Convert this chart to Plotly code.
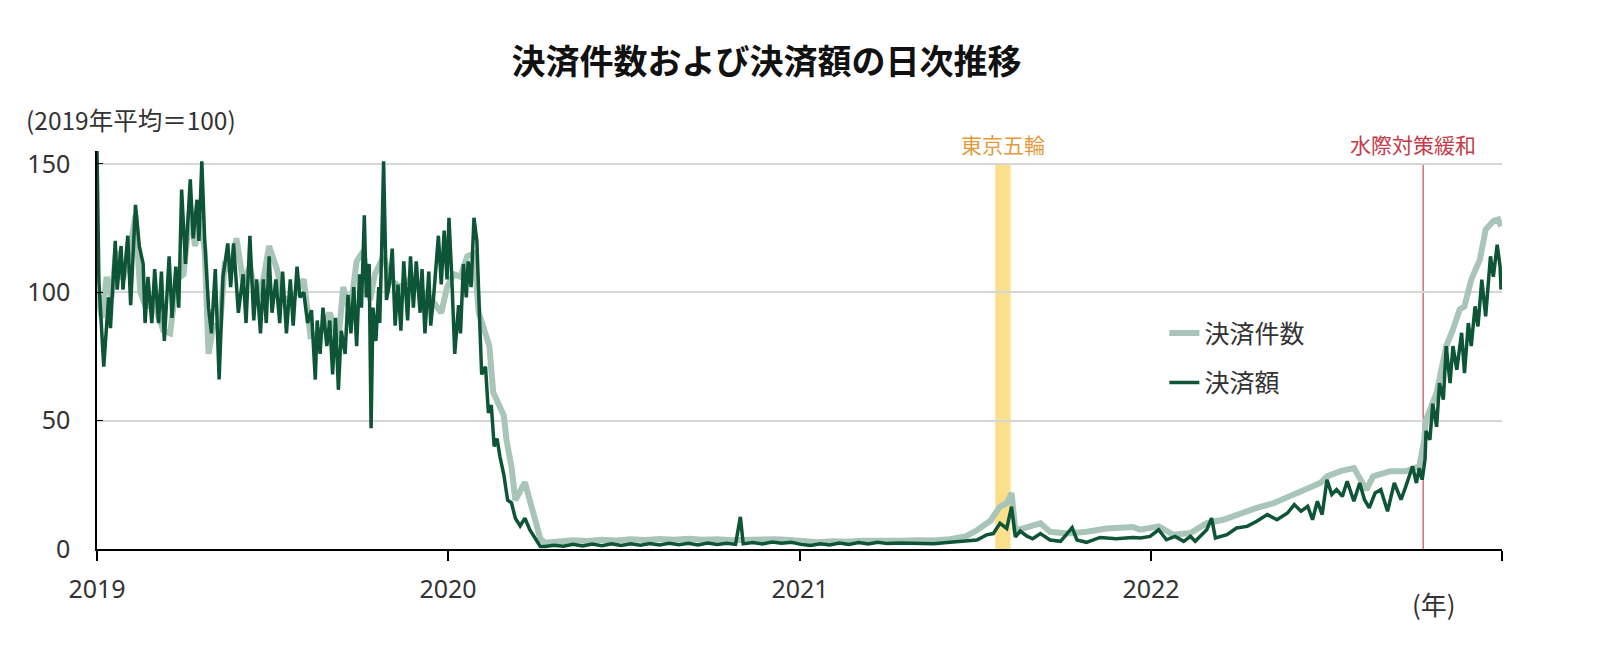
import pandas as pd
import plotly.graph_objects as go

START = "2019-01-01"

# (days since 2019-01-01, index value)
amount_points = [
    (0, 155), (2, 104), (7, 71), (12, 98), (14, 86), (19, 120), (21, 101), (25, 118), (27, 101), (32, 122),
    (35, 95), (40, 134), (44, 118), (48, 111), (50, 88), (53, 106), (57, 88), (60, 109), (64, 88), (67, 108),
    (70, 81), (75, 114), (78, 90), (82, 110), (85, 94), (88, 140), (92, 111), (97, 144), (100, 121), (104, 136),
    (106, 120), (109, 151), (112, 120), (116, 94), (119, 84), (123, 109), (127, 66), (131, 106), (136, 119), (139, 102),
    (142, 119), (147, 92), (152, 107), (155, 88), (159, 122), (163, 89), (166, 105), (170, 84), (173, 105), (176, 88),
    (179, 114), (182, 92), (186, 105), (190, 88), (193, 108), (197, 84), (201, 105), (204, 87), (208, 110), (211, 98),
    (215, 100), (219, 88), (223, 93), (227, 66), (229, 89), (232, 76), (235, 94), (239, 79), (242, 89), (245, 68),
    (248, 90), (251, 62), (254, 85), (258, 76), (261, 99), (264, 84), (267, 102), (270, 79), (273, 107), (275, 94),
    (278, 130), (280, 98), (283, 111), (285, 47), (287, 94), (290, 81), (293, 102), (294, 88), (296, 116), (298, 151),
    (301, 97), (304, 103), (307, 117), (310, 87), (313, 103), (316, 85), (319, 112), (323, 89), (326, 114), (329, 94),
    (332, 112), (336, 92), (338, 109), (341, 84), (345, 108), (347, 87), (350, 98), (355, 122), (358, 103), (361, 124),
    (364, 105), (366, 129), (369, 105), (372, 76), (376, 95), (378, 84), (381, 111), (384, 98), (386, 112), (389, 102),
    (392, 129), (395, 120), (398, 88), (400, 68), (404, 71), (407, 53), (410, 56), (413, 40), (416, 43), (419, 36),
    (423, 29), (427, 19), (431, 18), (435, 12), (440, 9), (445, 12), (450, 7.5), (456, 3.6), (461, 1.0),
    (466, 1.0), (475, 1.5), (485, 1.1), (495, 1.8), (505, 1.2), (515, 1.9), (525, 1.3), (535, 2.0), (545, 1.4), (555, 2.0),
    (565, 1.5), (575, 2.1), (585, 1.6), (595, 2.2), (605, 1.7), (615, 2.2), (625, 1.6), (635, 2.3), (645, 1.8), (655, 2.2),
    (664, 1.8), (669, 12.5), (672, 2.0), (682, 2.5), (692, 2.0), (702, 2.7), (712, 2.2), (722, 2.6), (732, 1.8), (742, 1.4),
    (752, 2.0), (762, 1.6), (772, 2.3), (782, 1.8), (792, 2.5), (802, 2.0), (812, 2.6), (822, 2.1), (835, 2.3), (852, 2.2),
    (870, 2.0), (887, 2.6), (904, 3.0), (915, 3.5), (925, 5.5), (932, 6.0), (939, 10), (946, 8), (951, 16.5), (955, 4.7),
    (960, 7.0), (967, 5.0), (973, 4.0), (981, 6.0), (991, 3.5), (1002, 3.0), (1014, 8.3), (1019, 3.5), (1029, 2.6), (1043, 4.5),
    (1060, 4.0), (1077, 4.5), (1085, 4.3), (1095, 4.9), (1104, 7.5), (1112, 3.6), (1121, 4.9), (1130, 3.0), (1137, 4.9), (1142, 3.0),
    (1154, 7.5), (1159, 12), (1163, 4.3), (1175, 5.6), (1185, 8.2), (1196, 8.8), (1206, 10.8), (1217, 13.4), (1227, 11.4), (1238, 14),
    (1245, 17.3), (1252, 14.7), (1259, 16.6), (1264, 11.4), (1269, 18.6), (1274, 13.4), (1279, 27), (1284, 21.2), (1289, 23.1), (1295, 20.5),
    (1300, 26.4), (1307, 18.6), (1313, 25.7), (1318, 19.2), (1323, 16), (1329, 21.8), (1335, 23.1), (1342, 14.7), (1349, 25.7), (1356, 19.2),
    (1361, 24.4), (1368, 32.2), (1372, 25.7), (1375, 31.5), (1378, 27), (1381, 35), (1382, 46), (1386, 42.5), (1389, 56.6), (1393, 47.6),
    (1396, 64.6), (1400, 58.2), (1403, 79), (1407, 64.6), (1410, 79), (1414, 69.8), (1419, 84.2), (1422, 68.5), (1426, 88), (1429, 79),
    (1433, 94.5), (1436, 86.7), (1440, 104.9), (1444, 90.6), (1449, 114), (1452, 106), (1456, 118.5), (1459, 110), (1460, 101),
]

count_points = [
    (0, 100), (5, 90), (10, 106), (15, 98), (20, 116), (27, 105), (34, 116), (40, 130), (45, 100), (51, 94),
    (57, 98), (62, 92), (69, 85), (76, 84), (83, 105), (90, 107), (97, 133), (102, 118), (107, 130), (112, 116),
    (116, 76), (121, 87), (128, 87), (133, 112), (139, 108), (145, 121), (152, 104), (159, 110), (166, 97), (173, 105),
    (179, 118), (187, 109), (194, 97), (204, 98), (215, 105), (222, 83), (232, 84), (242, 92), (251, 81), (256, 102),
    (263, 92), (270, 112), (277, 116), (284, 97), (289, 107), (298, 114), (305, 105), (315, 102), (325, 105), (336, 101),
    (346, 98), (358, 92), (364, 102), (371, 107), (378, 106), (385, 114), (392, 115), (397, 92), (404, 83), (408, 79),
    (412, 61), (416, 58), (423, 52), (426, 42), (431, 32), (435, 19), (440, 22), (445, 26), (450, 19), (456, 10),
    (461, 4), (466, 2.4), (480, 3.0), (495, 3.4), (510, 3.1), (525, 3.6), (540, 3.3), (555, 3.8), (570, 3.5), (585, 3.9),
    (600, 3.6), (615, 4.0), (630, 3.6), (645, 3.8), (660, 3.4), (675, 3.6), (690, 3.4), (705, 3.8), (720, 3.5), (735, 2.9),
    (750, 2.6), (765, 3.0), (780, 2.8), (795, 3.2), (810, 3.0), (825, 3.3), (835, 3.2), (852, 3.4), (870, 3.3), (887, 3.8),
    (904, 5.0), (915, 7.3), (929, 11), (939, 16.5), (946, 17.8), (951, 21.8), (955, 7.3), (963, 8), (981, 10), (991, 6.7),
    (1009, 6), (1029, 6.7), (1050, 8), (1077, 8.6), (1085, 7.5), (1104, 8.8), (1119, 5.6), (1137, 6.2), (1154, 10.1), (1171, 11.4),
    (1189, 14), (1206, 16), (1224, 17.9), (1241, 20.5), (1259, 23.1), (1272, 25.7), (1279, 28.3), (1293, 30.3), (1307, 31.5), (1313, 27.6),
    (1320, 23.1), (1327, 28.3), (1345, 30.3), (1361, 30.3), (1375, 32.2), (1380, 42), (1382, 50.4), (1393, 60.8), (1403, 79), (1410, 85.5),
    (1417, 93.3), (1422, 94.5), (1429, 104.9), (1438, 112.7), (1441, 117.9), (1444, 124.4), (1452, 127.7), (1457, 128.3), (1460, 125.7),
]

year_ticks = ["2019-01-01", "2020-01-01", "2021-01-01", "2022-01-01", "2023-01-01"]
year_labels = ["2019", "2020", "2021", "2022", ""]
y_ticks = [0, 50, 100, 150]
olympics_period = ["2021-07-23", "2021-08-08"]
border_easing_date = "2022-10-11"

series_names = ["決済件数", "決済額"]
title_text = "決済件数および決済額の日次推移"
y_unit_text = "(2019年平均＝100)"
x_unit_text = "(年)"
olympics_label = "東京五輪"
border_label = "水際対策緩和"


def to_dates(points):
    base = pd.Timestamp(START)
    return [base + pd.Timedelta(days=d) for d, _ in points], [v for _, v in points]


cx, cy = to_dates(count_points)
ax, ay = to_dates(amount_points)

JP = "Noto Sans CJK JP"
NUM = "Noto Sans"

fig = go.Figure()
fig.add_trace(go.Scatter(x=cx, y=cy, mode="lines", name=series_names[0],
                         line=dict(color="#A9C4B8", width=6), legendgroup="a"))
fig.add_trace(go.Scatter(x=ax, y=ay, mode="lines", name=series_names[1],
                         line=dict(color="#0E5538", width=3.5), legendgroup="b"))

fig.add_shape(type="rect", xref="x", yref="y", x0=olympics_period[0], x1=olympics_period[1],
              y0=0, y1=150, fillcolor="#FBE08C", line_width=0, layer="below")
fig.add_shape(type="line", xref="x", yref="y", x0=border_easing_date, x1=border_easing_date,
              y0=0, y1=150, line=dict(color="#B82A35", width=1), layer="below")

olympics_mid = pd.Timestamp(olympics_period[0]) + (pd.Timestamp(olympics_period[1]) - pd.Timestamp(olympics_period[0])) / 2

fig.add_annotation(x=olympics_mid, y=1.018, xref="x", yref="paper", text=olympics_label, xanchor="center",
                   showarrow=False, font=dict(family=JP, size=21, color="#E39A3E"), yanchor="middle")
fig.add_annotation(x=border_easing_date, y=1.018, xref="x", yref="paper", text=border_label, xshift=-10,
                   xanchor="center",
                   showarrow=False, font=dict(family=JP, size=21, color="#C33B48"), yanchor="middle")
fig.add_annotation(x=-0.052, y=1.078, xref="paper", yref="paper", text=y_unit_text, xanchor="left",
                   showarrow=False, font=dict(family=JP, size=24.5, color="#333333"), yanchor="middle")
fig.add_annotation(x=0.9516, y=-0.138, xref="paper", yref="paper", text=x_unit_text, xanchor="center",
                   showarrow=False, font=dict(family=JP, size=26, color="#333333"), yanchor="middle")

fig.update_layout(
    width=1600, height=658,
    margin=dict(l=97, r=98, t=151, b=109),
    paper_bgcolor="white", plot_bgcolor="white",
    title=dict(text=title_text, x=0.479, xref="container", xanchor="center",
               y=1 - 62 / 658, yref="container", yanchor="middle",
               font=dict(family=JP, size=34, color="#111111", weight="bold")),
    showlegend=True,
    legend=dict(x=0.7597, y=0.60, xanchor="left", yanchor="top", bgcolor="rgba(0,0,0,0)",
                font=dict(family=JP, size=25, color="#333333"), tracegroupgap=14,
                itemwidth=30),
    xaxis=dict(type="date", range=[year_ticks[0], year_ticks[-1]],
               tickmode="array", tickvals=year_ticks, ticktext=year_labels,
               showgrid=False, showline=True, linecolor="#000000", linewidth=2,
               ticks="outside", ticklen=10, tickcolor="#000000", tickwidth=1.5,
               ticklabelstandoff=7,
               tickfont=dict(family=NUM, size=25, color="#333333"), zeroline=False),
    yaxis=dict(range=[0, 155], tickmode="array", tickvals=y_ticks,
               showgrid=True, gridcolor="#D6D6D6", gridwidth=1.5,
               showline=True, linecolor="#000000", linewidth=1.5,
               ticks="inside", ticklen=6, tickcolor="#000000",
               ticklabelstandoff=20,
               tickfont=dict(family=NUM, size=25, color="#333333"), zeroline=False),
)

fig.write_html("out.html")
